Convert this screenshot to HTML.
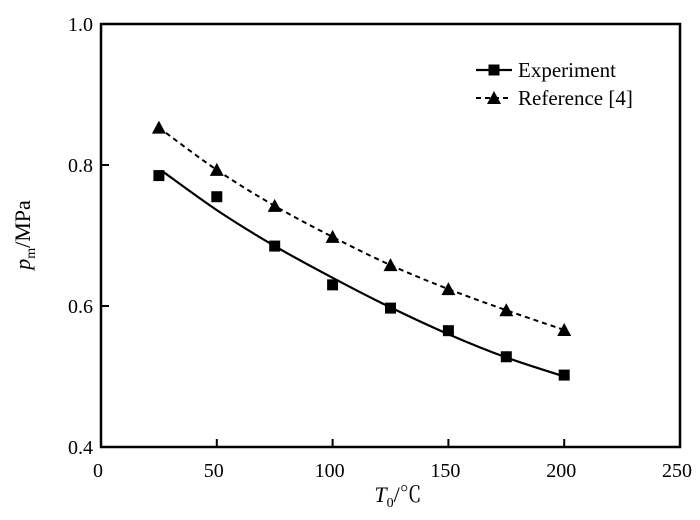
<!DOCTYPE html>
<html><head><meta charset="utf-8"><style>
body{margin:0;background:#fff}
svg{display:block;font-family:"Liberation Serif","Noto Serif CJK SC",serif}
</style></head><body>
<svg id="chart" width="700" height="520"></svg>
<script>
const temps=[25,50,75,100,125,150,175,200];
const experiment=[0.785,0.755,0.685,0.630,0.597,0.565,0.528,0.502];
const reference=[0.853,0.793,0.742,0.698,0.658,0.624,0.594,0.566];
const fitT=[27,50,75,100,125,150,175,200];
const fitP=[0.790,0.736,0.685,0.640,0.598,0.560,0.527,0.500];
const xTicks=[0,50,100,150,200,250];
const yTicks=[0.4,0.6,0.8,1.0];
const yTickLabels=["0.4","0.6","0.8","1.0"];

const L=101,R=680,T=24,B=447;
const xs=v=>L+(v-0)/250*(R-L);
const ys=v=>B-(v-0.4)/0.6*(B-T);
const svg=document.getElementById('chart');
const NS='http://www.w3.org/2000/svg';
function mk(tag,attrs,parent){const e=document.createElementNS(NS,tag);for(const k in attrs)e.setAttribute(k,attrs[k]);(parent||svg).appendChild(e);return e;}

const frame=mk('rect',{x:L,y:T,width:R-L,height:B-T,fill:'none',stroke:'#000','stroke-width':2.5});



xTicks.forEach(v=>{
  const t=mk('line',{x1:xs(v),x2:xs(v),y1:B,y2:B-8,stroke:'#000','stroke-width':2});
  
  
  const lb=mk('text',{x:xs(v)-3,y:B+30,'font-size':20,'text-anchor':'middle'});
  lb.textContent=v;
  
  
});
yTicks.forEach((v,i)=>{
  const t=mk('line',{x1:L,x2:L+8,y1:ys(v),y2:ys(v),stroke:'#000','stroke-width':2});
  
  
  const lb=mk('text',{x:L-8,y:ys(v)+7,'font-size':20,'text-anchor':'end'});
  lb.textContent=yTickLabels[i];
  
  
});

function smooth(px,py){
  let d='M'+px[0]+','+py[0];
  for(let i=0;i<px.length-1;i++){
    const x0=px[Math.max(i-1,0)],y0=py[Math.max(i-1,0)],x1=px[i],y1=py[i],x2=px[i+1],y2=py[i+1],x3=px[Math.min(i+2,px.length-1)],y3=py[Math.min(i+2,px.length-1)];
    d+=' C'+(x1+(x2-x0)/6)+','+(y1+(y2-y0)/6)+' '+(x2-(x3-x1)/6)+','+(y2-(y3-y1)/6)+' '+x2+','+y2;
  }
  return d;
}
const fit=mk('path',{d:smooth(fitT.map(xs),fitP.map(ys)),fill:'none',stroke:'#000','stroke-width':2.2});


const refl=mk('path',{d:smooth(temps.map(xs),reference.map(ys)),fill:'none',stroke:'#000','stroke-width':2,'stroke-dasharray':'5,4'});



function square(x,y,name){const s=mk('rect',{x:x-5.5,y:y-5.5,width:11,height:11,fill:'#000'});}
function tri(x,y,name){const p=mk('polygon',{points:(x)+','+(y-7)+' '+(x-7)+','+(y+6)+' '+(x+7)+','+(y+6),fill:'#000'});}
temps.forEach((t,i)=>{square(xs(t),ys(experiment[i]),'experiment-point');tri(xs(t),ys(reference[i]),'reference-point');});

// legend
const l1=mk('line',{x1:476,x2:512,y1:70,y2:70,stroke:'#000','stroke-width':2.2});


square(494,70,'legend-experiment-marker');
const t1=mk('text',{x:518,y:77,'font-size':21});t1.textContent='Experiment';


const l2=mk('line',{x1:476,x2:512,y1:98,y2:98,stroke:'#000','stroke-width':2,'stroke-dasharray':'5,4'});


tri(494,98,'legend-reference-marker');
const t2=mk('text',{x:518,y:105,'font-size':21});t2.textContent='Reference [4]';



// axis titles
const xt=mk('text',{x:398,y:502,'font-size':22,'text-anchor':'middle'});
xt.innerHTML='<tspan font-style="italic">T</tspan><tspan font-size="14" dy="5">0</tspan><tspan dy="-5">/℃</tspan>';


const yt=mk('text',{x:0,y:0,'font-size':22,'text-anchor':'middle',transform:'translate(30,235) rotate(-90)'});
yt.innerHTML='<tspan font-style="italic">p</tspan><tspan font-size="14" dy="5">m</tspan><tspan dy="-5">/MPa</tspan>';


</script>
</body></html>
